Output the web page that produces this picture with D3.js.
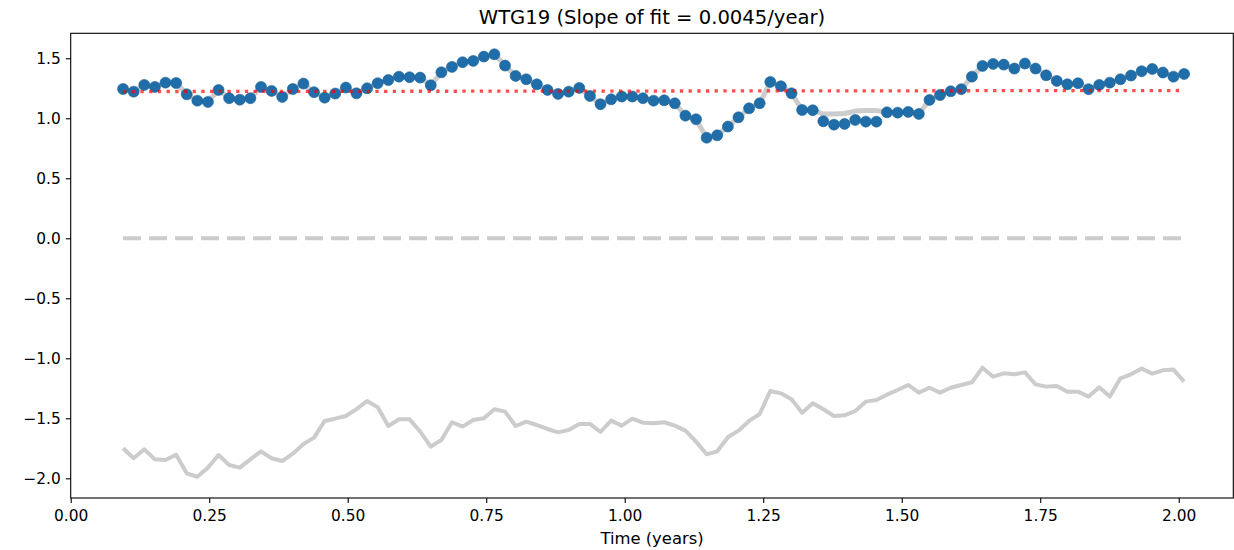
<!DOCTYPE html>
<html lang="en">
  <head>
    <meta charset="utf-8">
    <title>WTG19</title>
    <style>
      body { margin: 0; background: #fff; }
      text { font-family: "DejaVu Sans", sans-serif; }
    </style>
  </head>
  <body>
    <script src="https://d3js.org/d3.v7.min.js"></script>
    <div id="chart"></div>
    <script>

    // time of each weekly sample (years)
    var times = [0.0945,0.1137,0.1328,0.1520,0.1711,0.1903,0.2094,0.2286,0.2477,0.2669,
      0.2860,0.3052,0.3243,0.3435,0.3626,0.3818,0.4009,0.4201,0.4392,0.4584,
      0.4775,0.4967,0.5158,0.5350,0.5541,0.5733,0.5925,0.6116,0.6308,0.6499,
      0.6691,0.6882,0.7074,0.7265,0.7457,0.7648,0.7840,0.8031,0.8223,0.8414,
      0.8606,0.8797,0.8989,0.9180,0.9372,0.9563,0.9755,0.9946,1.0138,1.0329,
      1.0521,1.0713,1.0904,1.1096,1.1287,1.1479,1.1670,1.1862,1.2053,1.2245,
      1.2436,1.2628,1.2819,1.3011,1.3202,1.3394,1.3585,1.3777,1.3968,1.4160,
      1.4351,1.4543,1.4734,1.4926,1.5117,1.5309,1.5501,1.5692,1.5884,1.6075,
      1.6267,1.6458,1.6650,1.6841,1.7033,1.7224,1.7416,1.7607,1.7799,1.7990,
      1.8182,1.8373,1.8565,1.8756,1.8948,1.9139,1.9331,1.9522,1.9714,1.9905,
      2.0097];

    // corrected values (blue points)
    var corrected = [1.244,1.222,1.278,1.261,1.297,1.294,1.200,1.147,1.136,1.236,
      1.167,1.155,1.167,1.261,1.228,1.178,1.244,1.289,1.217,1.172,
      1.206,1.256,1.208,1.250,1.292,1.319,1.347,1.342,1.339,1.275,
      1.383,1.428,1.467,1.478,1.514,1.533,1.439,1.353,1.325,1.283,
      1.236,1.203,1.222,1.253,1.186,1.117,1.158,1.181,1.181,1.167,
      1.147,1.150,1.125,1.022,0.992,0.838,0.858,0.931,1.008,1.083,
      1.125,1.303,1.267,1.208,1.069,1.067,0.975,0.947,0.953,0.986,
      0.972,0.972,1.050,1.047,1.053,1.036,1.153,1.194,1.225,1.242,
      1.347,1.436,1.453,1.447,1.414,1.456,1.414,1.358,1.311,1.283,
      1.292,1.242,1.278,1.297,1.325,1.356,1.392,1.411,1.381,1.347,
      1.369];

    // light grey line behind the points
    var smoothed = [1.244,1.222,1.278,1.261,1.297,1.294,1.200,1.147,1.136,1.236,
      1.167,1.155,1.167,1.261,1.228,1.178,1.244,1.289,1.217,1.172,
      1.206,1.256,1.208,1.250,1.292,1.319,1.347,1.342,1.339,1.275,
      1.383,1.428,1.467,1.478,1.514,1.533,1.439,1.353,1.325,1.283,
      1.236,1.203,1.222,1.253,1.186,1.117,1.158,1.181,1.181,1.167,
      1.147,1.150,1.125,1.022,0.992,0.838,0.858,0.931,1.008,1.083,
      1.125,1.303,1.267,1.208,1.069,1.067,1.035,1.035,1.040,1.060,
      1.065,1.065,1.050,1.047,1.053,1.036,1.153,1.194,1.225,1.242,
      1.347,1.436,1.453,1.447,1.414,1.456,1.414,1.358,1.311,1.283,
      1.292,1.242,1.278,1.297,1.325,1.356,1.392,1.411,1.381,1.347,
      1.369];

    // raw values (lower grey line)
    var raw = [-1.750,-1.833,-1.758,-1.842,-1.847,-1.803,-1.958,-1.987,-1.911,-1.806,
      -1.889,-1.911,-1.842,-1.775,-1.833,-1.856,-1.795,-1.714,-1.661,-1.522,
      -1.503,-1.481,-1.423,-1.356,-1.408,-1.564,-1.508,-1.508,-1.611,-1.736,
      -1.681,-1.533,-1.569,-1.514,-1.500,-1.425,-1.444,-1.564,-1.528,-1.556,
      -1.589,-1.617,-1.597,-1.547,-1.547,-1.614,-1.519,-1.561,-1.503,-1.536,
      -1.542,-1.533,-1.561,-1.603,-1.694,-1.800,-1.775,-1.658,-1.603,-1.522,
      -1.464,-1.272,-1.292,-1.342,-1.453,-1.375,-1.425,-1.481,-1.475,-1.439,
      -1.361,-1.347,-1.303,-1.264,-1.222,-1.286,-1.245,-1.286,-1.245,-1.222,
      -1.200,-1.078,-1.153,-1.125,-1.133,-1.117,-1.217,-1.236,-1.231,-1.278,
      -1.278,-1.319,-1.242,-1.319,-1.167,-1.133,-1.086,-1.128,-1.100,-1.094,
      -1.194];

    // linear fit of the corrected values
    var fitIntercept = 1.2222,
        fitSlope = 0.0045;

    var xTicks = [0, 0.25, 0.5, 0.75, 1.0, 1.25, 1.5, 1.75, 2.0];
    var yTicks = [-2.0, -1.5, -1.0, -0.5, 0.0, 0.5, 1.0, 1.5];

    var W = 1234, H = 550;
    var plotL = 70.7, plotR = 1233.3, plotT = 33.3, plotB = 498;

    var svg = d3.select("#chart").append("svg")
      .attr("width", W)
      .attr("height", H);

    var x = d3.scaleLinear().domain([0, 2.0985]).range([plotL, plotR]);
    var y = d3.scaleLinear().domain([-2.164, 1.708]).range([plotB, plotT]);

    var line = d3.line()
      .x(function(d, i) { return x(times[i]); })
      .y(function(d) { return y(d); });

    // lower grey line
    svg.append("path")
      .attr("d", line(raw))
      .attr("fill", "none")
      .attr("stroke", "#cccccc")
      .attr("stroke-width", 4)
      .attr("stroke-linejoin", "round");

    // zero line
    svg.append("line")
      .attr("x1", x(times[0]))
      .attr("x2", x(times[times.length - 1]))
      .attr("y1", y(0))
      .attr("y2", y(0))
      .attr("stroke", "#cccccc")
      .attr("stroke-width", 4)
      .attr("stroke-dasharray", "18,8");

    // grey line behind points
    svg.append("path")
      .attr("d", line(smoothed))
      .attr("fill", "none")
      .attr("stroke", "#cccccc")
      .attr("stroke-width", 5)
      .attr("stroke-linejoin", "round");

    // points
    svg.selectAll("circle.pt")
      .data(corrected)
      .enter()
      .append("circle")
        .attr("class", "pt")
        .attr("cx", function(d, i) { return x(times[i]); })
        .attr("cy", function(d) { return y(d); })
        .attr("r", 5.5)
        .attr("fill", "#1f6eaa")
        .attr("stroke", "#1a5f94")
        .attr("stroke-width", 0.6);

    // fit line
    var t0 = times[0], t1 = times[times.length - 1];
    svg.append("line")
      .attr("x1", x(t0))
      .attr("x2", x(t1))
      .attr("y1", y(fitIntercept + fitSlope * t0))
      .attr("y2", y(fitIntercept + fitSlope * t1))
      .attr("stroke", "#ff0000")
      .attr("stroke-opacity", 0.7)
      .attr("stroke-width", 3.3)
      .attr("stroke-dasharray", "3.3,5.4");

    // axes
    var xAxis = svg.append("g")
      .attr("transform", "translate(0," + plotB + ")")
      .call(d3.axisBottom(x).tickValues(xTicks).tickFormat(d3.format(".2f"))
        .tickSizeInner(4.9).tickSizeOuter(0).tickPadding(7));

    var yAxis = svg.append("g")
      .attr("transform", "translate(" + plotL + ",0)")
      .call(d3.axisLeft(y).tickValues(yTicks).tickFormat(d3.format(".1f"))
        .tickSizeInner(4.9).tickSizeOuter(0).tickPadding(5));

    [xAxis, yAxis].forEach(function(g) {
      g.select(".domain").remove();
      g.selectAll(".tick line").attr("stroke", "#000").attr("stroke-width", 1.1);
      g.selectAll(".tick text")
        .attr("fill", "#000")
        .style("font-size", "15.4px")
        .style("font-family", "'DejaVu Sans', sans-serif");
    });

    // frame
    svg.append("rect")
      .attr("x", plotL)
      .attr("y", plotT)
      .attr("width", plotR - plotL)
      .attr("height", plotB - plotT)
      .attr("fill", "none")
      .attr("stroke", "#000")
      .attr("stroke-width", 1.1);

    // title
    svg.append("text")
      .attr("x", (plotL + plotR) / 2)
      .attr("y", 24)
      .attr("text-anchor", "middle")
      .style("font-size", "19.6px")
      .text("WTG19 (Slope of fit = 0.0045/year)");

    // x label
    svg.append("text")
      .attr("x", (plotL + plotR) / 2)
      .attr("y", 544)
      .attr("text-anchor", "middle")
      .style("font-size", "16.4px")
      .text("Time (years)");

    </script>
  </body>
</html>
